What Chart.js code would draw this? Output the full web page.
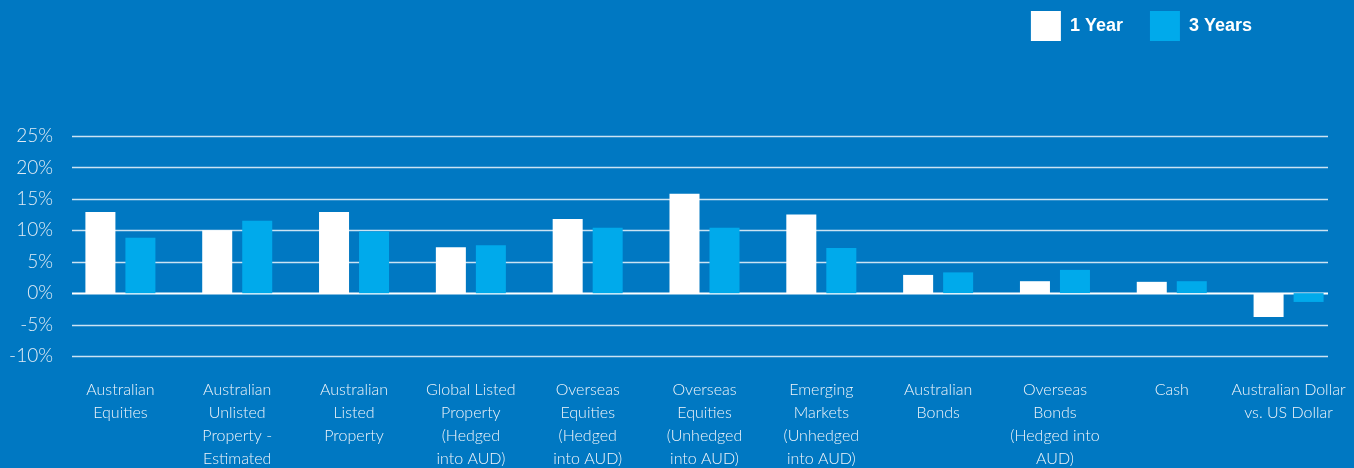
<!DOCTYPE html>
<html>
<head>
<meta charset="utf-8">
<script src="https://cdn.jsdelivr.net/npm/chart.js@4"></script>
<style>
    body { margin: 0; background: #0078c2; }
    #wrap { width: 1354px; height: 468px; position: relative; }
</style>
</head>
<body>
<div id="wrap"><canvas id="graph"></canvas></div>
<script>
const categories = [
    ["Australian", "Equities"],
    ["Australian", "Unlisted", "Property -", "Estimated"],
    ["Australian", "Listed", "Property"],
    ["Global Listed", "Property", "(Hedged", "into AUD)"],
    ["Overseas", "Equities", "(Hedged", "into AUD)"],
    ["Overseas", "Equities", "(Unhedged", "into AUD)"],
    ["Emerging", "Markets", "(Unhedged", "into AUD)"],
    ["Australian", "Bonds"],
    ["Overseas", "Bonds", "(Hedged into", "AUD)"],
    ["Cash"],
    ["Australian Dollar", "vs. US Dollar"]
];
const oneYear = [12.9, 10.0, 12.9, 7.3, 11.8, 15.8, 12.5, 2.9, 1.9, 1.8, -3.8];
const threeYears = [8.8, 11.5, 9.8, 7.6, 10.4, 10.4, 7.2, 3.3, 3.7, 1.9, -1.4];
const yTicks = [-10, -5, 0, 5, 10, 15, 20, 25];

// horizontal lines, a bit shorter than the plot area
const gridLines = {
    id: "gridLines",
    beforeDatasetsDraw(chart) {
        const ctx = chart.ctx;
        const y = chart.scales.y;
        const left = chart.chartArea.left + 10;
        const right = chart.chartArea.right - 19;
        ctx.save();
        yTicks.forEach(function (v) {
            const py = Math.round(y.getPixelForValue(v)) + 0.5;
            ctx.beginPath();
            ctx.strokeStyle = v === 0 ? "#ffffff" : "rgba(225,238,248,0.9)";
            ctx.lineWidth = v === 0 ? 2 : 1.5;
            ctx.moveTo(left, py);
            ctx.lineTo(right, py);
            ctx.stroke();
        });
        ctx.restore();
    }
};

// room under the legend, and legend pushed into the top right corner
const legendPlace = {
    id: "legendPlace",
    beforeInit(chart) {
        const fit = chart.legend.fit;
        chart.legend.fit = function () {
            fit.bind(chart.legend)();
            this.height = 136;
        };
    },
    afterLayout(chart) {
        chart.legend.top = -16;
        chart.legend.right = 1279;
    }
};

const ctx = document.getElementById("graph").getContext("2d");

new Chart(ctx, {
    type: "bar",
    data: {
        labels: categories,
        datasets: [
            {
                label: "1 Year",
                data: oneYear,
                backgroundColor: "#ffffff",
                categoryPercentage: 0.685,
                barPercentage: 0.75
            },
            {
                label: "3 Years",
                data: threeYears,
                backgroundColor: "#00aaeb",
                categoryPercentage: 0.685,
                barPercentage: 0.75
            }
        ]
    },
    options: {
        responsive: true,
        maintainAspectRatio: false,
        animation: false,
        layout: { padding: { left: 0, right: 7, top: 0, bottom: 0 } },
        plugins: {
            tooltip: { enabled: false },
            legend: {
                position: "top",
                align: "end",
                labels: {
                    boxWidth: 30,
                    boxHeight: 30,
                    padding: 27,
                    color: "#ffffff",
                    font: { family: "Liberation Sans", size: 18, weight: "bold" }
                }
            }
        },
        scales: {
            x: {
                grid: { display: false, drawTicks: false },
                border: { display: false },
                ticks: {
                    color: "#f0f5fa",
                    padding: 22,
                    autoSkip: false,
                    maxRotation: 0,
                    font: { family: "Lato", size: 16, weight: 300, lineHeight: "23px" }
                },
                afterFit(scale) {
                    scale.height = 112;
                    scale.paddingLeft = 0;
                    scale.paddingRight = 0;
                }
            },
            y: {
                min: -10,
                max: 25,
                grid: { display: false, drawTicks: false },
                border: { display: false },
                ticks: {
                    stepSize: 5,
                    padding: 9,
                    color: "#e2ecf5",
                    font: { family: "Lato", size: 19, weight: 300 },
                    callback: function (v) { return v + "%"; }
                },
                afterFit(scale) { scale.width = 62; }
            }
        }
    },
    plugins: [gridLines, legendPlace]
});
</script>
</body>
</html>
